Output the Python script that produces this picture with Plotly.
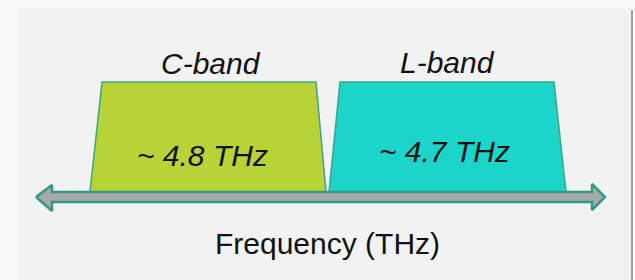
import plotly.graph_objects as go

# Band data (horizontal positions on a pixel-like frequency axis)
band_names = ["C-band", "L-band"]
band_labels = ["~ 4.8 THz", "~ 4.7 THz"]
band_bottom_left = [90, 329]
band_bottom_right = [326, 566]
band_top_left = [102, 340]
band_top_right = [316, 554]
band_colors = ["#b8d335", "#1bd6c8"]
band_top = 82
band_base = 192
axis_title = "Frequency (THz)"

fig = go.Figure()

# Panel background
fig.add_trace(go.Scatter(x=[17, 631, 631, 17, 17], y=[8, 8, 280, 280, 8], mode="lines",
                         fill="toself", fillcolor="#f2f2f2", line=dict(width=0),
                         hoverinfo="skip", showlegend=False))
fig.add_trace(go.Scatter(x=[632, 632], y=[10, 280], mode="lines",
                         line=dict(color="#a0a0a0", width=2), hoverinfo="skip", showlegend=False))

for i in range(2):
    fig.add_trace(go.Scatter(
        x=[band_bottom_left[i], band_top_left[i], band_top_right[i], band_bottom_right[i], band_bottom_left[i]],
        y=[band_base, band_top, band_top, band_base, band_base],
        mode="lines", fill="toself", fillcolor=band_colors[i],
        line=dict(color="#3aa58c", width=1.5), hoverinfo="skip", showlegend=False))

# Double arrow (frequency axis)
ax_x = [36, 52, 52, 592, 592, 605, 592, 592, 52, 52, 36]
ax_y = [197, 185, 192, 192, 184, 197, 210, 202, 202, 211, 197]
fig.add_trace(go.Scatter(x=ax_x, y=ax_y, mode="lines", fill="toself", fillcolor="#a9a9a9",
                         line=dict(color="#2f9a8a", width=2.5), hoverinfo="skip", showlegend=False))

name_x = [211, 447]
name_y = [63, 62]
lab_x = [202, 444]
lab_y = [155, 151]
for i in range(2):
    fig.add_annotation(x=name_x[i], y=name_y[i], text=f"<i>{band_names[i]}</i>", showarrow=False,
                       font=dict(family="Liberation Sans", size=30, color="#111111"))
    fig.add_annotation(x=lab_x[i], y=lab_y[i], text=f"<i>{band_labels[i]}</i>", showarrow=False,
                       font=dict(family="Liberation Sans", size=30, color="#111111"))
fig.add_annotation(x=327, y=243, text=axis_title, showarrow=False,
                   font=dict(family="Liberation Sans", size=30, color="#111111"))

fig.update_layout(width=635, height=280, margin=dict(l=0, r=0, t=0, b=0),
                  paper_bgcolor="#fbfbfb", plot_bgcolor="#fbfbfb",
                  xaxis=dict(range=[0, 635], visible=False, fixedrange=True),
                  yaxis=dict(range=[280, 0], visible=False, fixedrange=True),
                  showlegend=False)
fig.write_html("out.html", config={"displayModeBar": False},
               post_script="document.body.style.margin='0';document.body.style.overflow='hidden';")
